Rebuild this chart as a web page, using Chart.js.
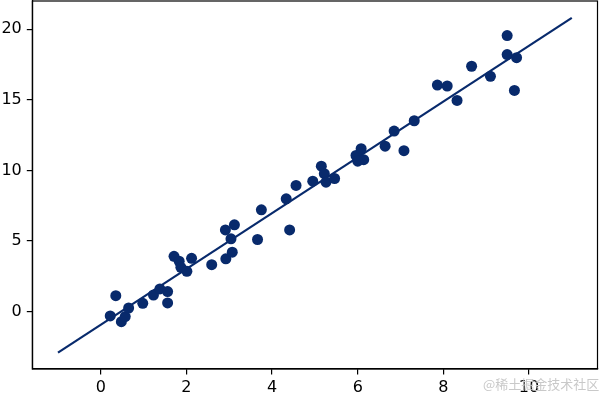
<!DOCTYPE html>
<html>
<head>
<meta charset="utf-8">
<script src="https://cdn.jsdelivr.net/npm/chart.js@4"></script>
<style>
  body { margin: 0; background: #fff; }
  #caja { position: relative; width: 600px; height: 394px; }
  #marca { position: absolute; left: 483px; top: 374px; font: 13px "Noto Sans CJK SC", sans-serif; color: #c9c9c9; }
</style>
</head>
<body>
<div id="caja">
  <canvas id="graf" width="600" height="394"></canvas>
  <div id="marca">@稀土掘金技术社区</div>
</div>
<script>
// puntos
let xs = [0.22, 0.35, 0.48, 0.57, 0.65, 0.98, 1.23, 1.38, 1.56, 1.56,
          1.71, 1.83, 1.87, 2.01, 2.12, 2.59, 2.92, 2.91, 3.04, 3.12,
          3.07, 3.66, 3.75, 4.33, 4.41, 4.56, 4.95, 5.15, 5.22, 5.26,
          5.46, 5.96, 6.08, 6.14, 6.00, 6.64, 6.85, 7.08, 7.32, 7.86,
          8.09, 8.32, 8.66, 9.10, 9.49, 9.49, 9.71, 9.66];
let ys = [-0.30, 1.13, -0.71, -0.35, 0.26, 0.59, 1.18, 1.61, 1.42, 0.62,
          3.92, 3.57, 3.14, 2.86, 3.78, 3.33, 3.74, 5.79, 5.16, 6.15,
          4.21, 5.11, 7.21, 7.99, 5.79, 8.94, 9.24, 10.30, 9.77, 9.17,
          9.43, 11.06, 11.54, 10.76, 10.66, 11.72, 12.79, 11.40, 13.52, 16.05,
          15.98, 14.96, 17.38, 16.67, 19.55, 18.21, 17.99, 15.67];

// recta ajustada
let lineaX = [-1, 11];
let lineaY = [-2.9, 20.8];

let ticksX = [0, 2, 4, 6, 8, 10];
let ticksY = [0, 5, 10, 15, 20];

let azul = '#082a6c';

let puntos = xs.map((x, i) => ({x: x, y: ys[i]}));
let linea = lineaX.map((x, i) => ({x: x, y: lineaY[i]}));

// marco completo (como matplotlib)
let marco = {
  id: 'marco',
  afterDraw(chart) {
    let a = chart.chartArea;
    let ctx = chart.ctx;
    ctx.save();
    ctx.strokeStyle = '#000';
    ctx.lineWidth = 1.2;
    ctx.strokeRect(a.left, a.top, a.right - a.left, a.bottom - a.top);
    ctx.restore();
  }
};

// sin relleno extra alrededor del area
function sinRelleno(s) {
  s.paddingTop = 0;
  s.paddingBottom = 0;
  s.paddingLeft = 0;
  s.paddingRight = 0;
}

let fuente = {family: '"DejaVu Sans", sans-serif', size: 16};

let ctx = document.getElementById('graf').getContext('2d');
let graf = new Chart(ctx, {
  type: 'scatter',
  data: {
    datasets: [
      {
        type: 'line',
        data: linea,
        borderColor: azul,
        borderWidth: 2.2,
        pointRadius: 0,
        fill: false,
        order: 2
      },
      {
        data: puntos,
        backgroundColor: azul,
        borderWidth: 0,
        pointRadius: 5.5,
        order: 1
      }
    ]
  },
  options: {
    responsive: false,
    animation: false,
    layout: {autoPadding: false, padding: {top: 1, right: 2.5, left: 0, bottom: 0}},
    plugins: {legend: {display: false}, tooltip: {enabled: false}},
    scales: {
      x: {
        type: 'linear',
        min: -1.6,
        max: 11.6,
        afterBuildTicks: s => { s.ticks = ticksX.map(v => ({value: v})); },
        afterFit: s => { s.height = 25; sinRelleno(s); },
        grid: {drawOnChartArea: false, drawTicks: true, tickLength: 5.5, color: '#000', lineWidth: 1.2},
        border: {display: true, color: '#000', width: 1.2},
        ticks: {color: '#000', font: fuente, padding: 4, maxRotation: 0}
      },
      y: {
        type: 'linear',
        min: -4.06,
        max: 22.0,
        afterBuildTicks: s => { s.ticks = ticksY.map(v => ({value: v})); },
        afterFit: s => { s.width = 32.3; sinRelleno(s); },
        grid: {drawOnChartArea: false, drawTicks: true, tickLength: 5.5, color: '#000', lineWidth: 1.2},
        border: {display: true, color: '#000', width: 1.2},
        ticks: {color: '#000', font: fuente, padding: 5}
      }
    }
  },
  plugins: [marco]
});
</script>
</body>
</html>
